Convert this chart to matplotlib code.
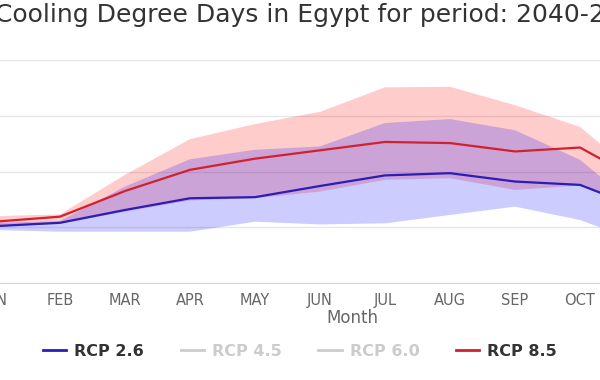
import matplotlib
matplotlib.use('Agg')
from matplotlib import pyplot as plt
from matplotlib.lines import Line2D

# the reference text is wide, DejaVu Sans gets closest
plt.rcParams['font.family'] = ['DejaVu Sans']

# data (visible part: JAN..NOV)
months = ['JAN', 'FEB', 'MAR', 'APR', 'MAY', 'JUN', 'JUL', 'AUG', 'SEP', 'OCT', 'NOV', 'DEC']
rcp85_mean = [10, 19, 65, 103, 123, 138, 153, 151, 136, 143, 79]
rcp85_upper = [20, 23, 94, 158, 185, 207, 251, 252, 219, 180, 83]
rcp85_lower = [1, 6, 28, 48, 52, 64, 85, 88, 67, 75, 28]
rcp26_mean = [2, 8, 31, 52, 54, 74, 93, 97, 82, 76, 31]
rcp26_upper = [8, 11, 73, 122, 139, 145, 187, 194, 174, 121, 25]
rcp26_lower = [-5, -8, -8, -8, 10, 5, 7, 22, 37, 13, -30]
legend_labels = ['RCP 2.6', 'RCP 4.5', 'RCP 6.0', 'RCP 8.5']

W, H = 600, 380
fig = plt.figure(figsize=(6, 3.8), dpi=100)
# the reference is a crop of a wider chart, so the axes run past the figure edges
ax = fig.add_axes([-5 / W, (H - 283) / H, 715 / W, 223 / H])

x = list(range(len(rcp85_mean)))
ax.fill_between(x, rcp85_lower, rcp85_upper, color=(1, 0, 0, 0.2), lw=0)
ax.fill_between(x, rcp26_lower, rcp26_upper, color=(0, 0, 1, 0.2), lw=0)
ax.plot(x, rcp26_mean, color='#2b1db5', lw=1.6)
ax.plot(x, rcp85_mean, color='#d2202f', lw=1.6)

ax.set_xlim(0, 11)
ax.set_ylim(-100, 300)
ax.set_yticks([-100, 0, 100, 200, 300])
ax.set_yticklabels([])
ax.tick_params(axis='y', length=0)
ax.grid(axis='y', color='#e6e6e6', lw=1)
ax.set_axisbelow(True)
ax.set_xticks(range(12))
ax.set_xticklabels(months, color='#666666', fontsize=10.5)
ax.tick_params(axis='x', length=0, pad=7)
ax.set_xlabel('Month', color='#666666', fontsize=12, labelpad=1)
for s in ['top', 'left', 'right']:
    ax.spines[s].set_visible(False)
ax.spines['bottom'].set_color('#ccd6eb')

fig.text(-5 / W, 1 - 15 / H, 'Cooling Degree Days in Egypt for period: 2040-2059',
         ha='left', va='center', fontsize=18, color='#333333')

handles = [Line2D([], [], color='#2b1db5', lw=2),
           Line2D([], [], color='#cccccc', lw=2),
           Line2D([], [], color='#cccccc', lw=2),
           Line2D([], [], color='#d2202f', lw=2)]
leg = fig.legend(handles, legend_labels, loc='center', bbox_to_anchor=(0.5, 1 - 351 / H),
                 ncol=4, frameon=False, handlelength=1.45, handletextpad=0.5,
                 columnspacing=2.3, prop={'weight': 'bold', 'size': 11.5})
for t, c in zip(leg.get_texts(), ['#333333', '#cccccc', '#cccccc', '#333333']):
    t.set_color(c)

fig.savefig('out.png', dpi=100)
